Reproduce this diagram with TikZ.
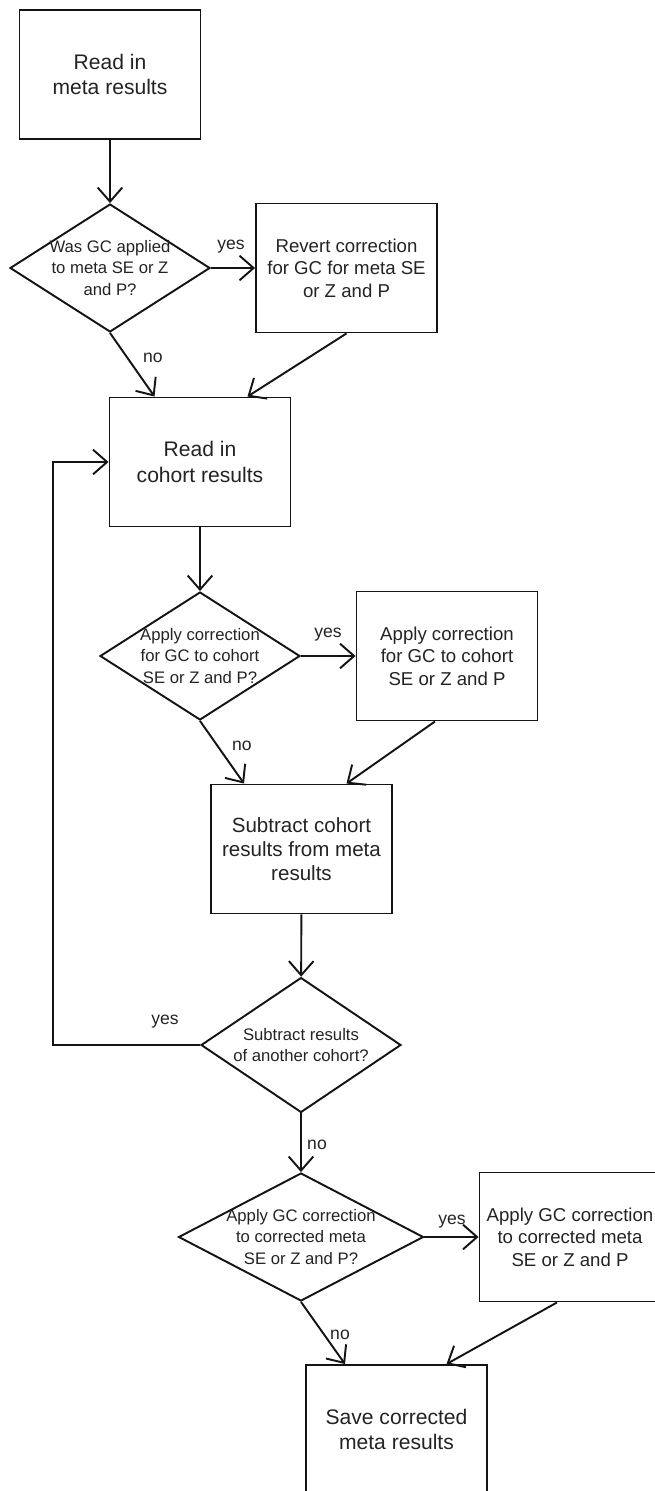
\documentclass[tikz,border=0pt]{standalone}
\usepackage{fontspec}
\setmainfont{Liberation Sans}
\usepackage{tikz}
\usetikzlibrary{shapes.geometric, arrows.meta, positioning, calc}
\definecolor{linedark}{RGB}{20, 20, 20}
\definecolor{textdark}{RGB}{35, 35, 35}

\begin{document}
\begin{tikzpicture}[x=0.02cm, y=-0.02cm,
        stepbox/.style={draw=linedark, line width=1.1pt, minimum width=3.62cm, minimum height=2.58cm,
            align=center, inner sep=1pt, text=textdark, font=\fontsize{12}{14.7}\selectfont},
        sidebox/.style={stepbox, font=\fontsize{10.6}{12.8}\selectfont},
        decision/.style={draw=linedark, line width=1.1pt, diamond, inner sep=0pt,
            minimum width=4cm, minimum height=2.56cm},
        decisiontext/.style={align=center, inner sep=0pt, text=textdark, font=\fontsize{9.5}{12}\selectfont},
        answer/.style={inner sep=0pt, text=textdark, font=\fontsize{10}{12}\selectfont},
        flow/.style={draw=linedark, line width=1.1pt, -{Straight Barb[length=8pt, width=14pt]}}
    ]
    \useasboundingbox (0,0) rectangle (654,1491);

    % boxes and decisions
    \node[stepbox] (readmeta) at (110,74.5) {Read in\\meta results};
    \node[decision] (gcmeta) at (110,268) {};
    \node[decisiontext] (gcmetaq) at (gcmeta) {Was GC applied\\to meta SE or Z\\and P?};
    \node[sidebox] (revert) at (346.5,268) {Revert correction\\for GC for meta SE\\or Z and P};

    \node[stepbox] (readcohort) at (200,462) {Read in\\cohort results};
    \node[decision] (gccohort) at (200,656) {};
    \node[decisiontext] (gccohortq) at (gccohort) {Apply correction\\for GC to cohort\\SE or Z and P?};
    \node[sidebox] (applycohort) at (447,656) {Apply correction\\for GC to cohort\\SE or Z and P};

    \node[stepbox, font=\fontsize{11.7}{13.5}\selectfont] (subtract) at (301.5,849) {Subtract cohort\\results from meta\\results};
    \node[decision, minimum height=2.7cm] (another) at (301,1045) {};
    \node[decisiontext] (anotherq) at (another) {Subtract results\\of another cohort?};

    \node[decision, minimum width=4.9cm] (gcfinal) at (301,1237) {};
    \node[decisiontext] (gcfinalq) at (gcfinal) {Apply GC correction\\to corrected meta\\SE or Z and P?};
    \node[sidebox] (applyfinal) at (570,1237) {Apply GC correction\\to corrected meta\\SE or Z and P};

    \node[stepbox] (save) at (396.5,1429.5) {Save corrected\\meta results};

    \coordinate (loopturn) at (53,1045);

    % connectors
    \draw[flow] (readmeta) -- (gcmeta);
    \draw[flow] (gcmeta.east) -- (gcmeta.east -| revert.west);
    \draw[flow] (gcmeta.south) -- ([xshift=-0.91cm]readcohort.north);
    \draw[flow] (revert.south) -- ([xshift=0.95cm]readcohort.north);
    \draw[flow] (readcohort) -- (gccohort);
    \draw[flow] (gccohort.east) -- (gccohort.east -| applycohort.west);
    \draw[flow] (gccohort.south) -- ([xshift=-1.15cm]subtract.north);
    \draw[flow] ([xshift=-0.24cm]applycohort.south) -- ([xshift=0.9cm]subtract.north);
    \draw[flow] (subtract) -- (another);
    \draw[flow] (another.west) -- (loopturn) |- (readcohort.west);
    \draw[flow] (another) -- (gcfinal);
    \draw[flow] (gcfinal.east) -- (gcfinal.east -| applyfinal.west);
    \draw[flow] (gcfinal.south) -- ([xshift=-1.03cm]save.north);
    \draw[flow] ([xshift=-0.26cm]applyfinal.south) -- ([xshift=1.0cm]save.north);

    % yes / no
    \node[answer] (yes1) at (231,247) {yes};
    \node[answer] (no1) at (153,358) {no};
    \node[answer] (yes2) at (328,635) {yes};
    \node[answer] (no2) at (242,746) {no};
    \node[answer] (yes3) at (165,1022) {yes};
    \node[answer] (no3) at (317,1145) {no};
    \node[answer] (yes4) at (452,1222) {yes};
    \node[answer] (no4) at (340,1335) {no};
\end{tikzpicture}
\end{document}
